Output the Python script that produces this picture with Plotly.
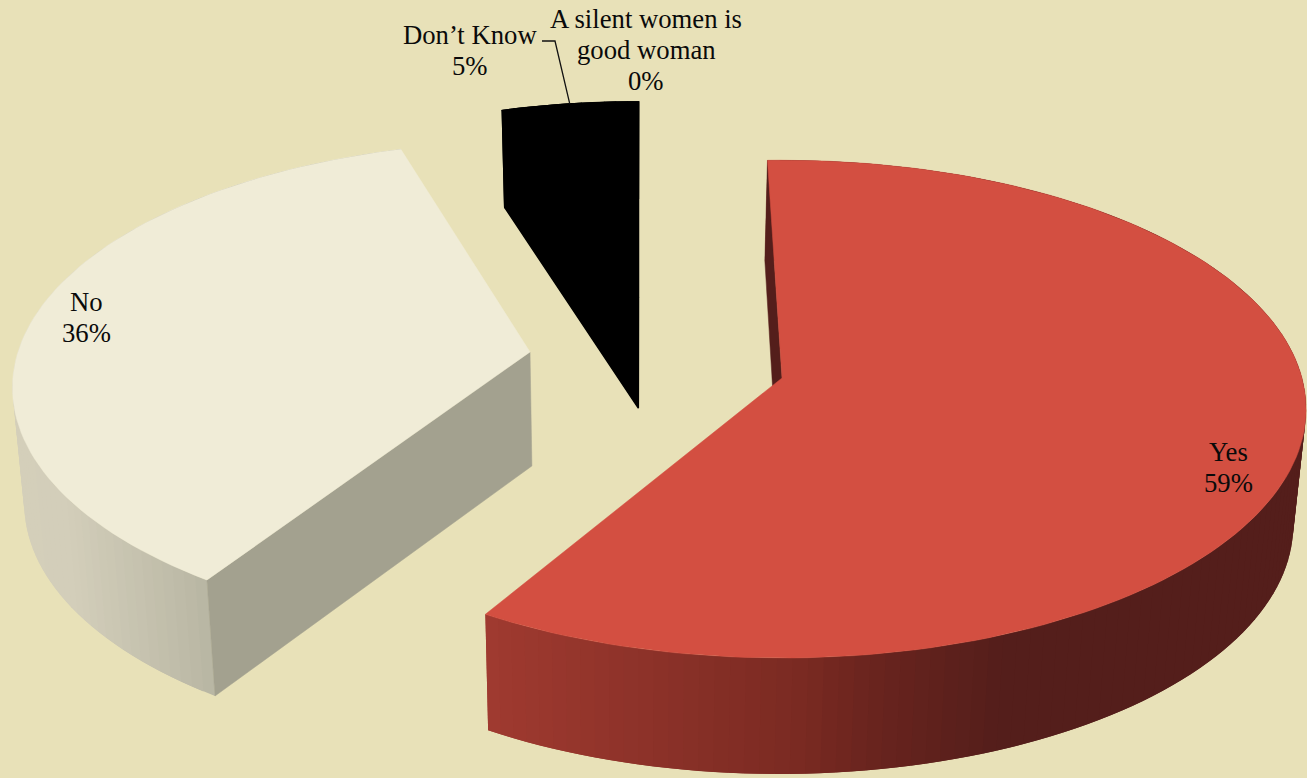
import math
import plotly.graph_objects as go

# Survey shares, in clockwise order from twelve o'clock
categories = ["Yes", "No", "Don’t Know", "A silent women is<br>good woman"]
shares = [59, 36, 5, 0]

W, H = 1307, 778
BG = "#E8E1B8"
TEXT_FONT = dict(family="Liberation Serif, Times New Roman, serif", size=26.7, color="#0a0a0a")
LINE_STEP = 31

# Exploded position and perspective of each slice
slice_style = {
    "Yes": dict(apex=(782, 378), rx=520, ry=245, k=0.125, rot=-1.8, top="#D34F41",
                cut="#541E1B", seam=0.0,
                wall=[(485, (160, 58, 48)), (800, (122, 42, 34)), (870, (106, 36, 30)),
                      (1000, (84, 30, 27)), (1307, (84, 30, 27))]),
    "No": dict(apex=(530, 352), rx=512, ry=241, k=0.145, rot=1.3, top="#F0ECD7",
               cut="#A3A18F", seam=0.0,
               wall=[(12, (212, 207, 186)), (70, (211, 206, 186)), (207, (185, 183, 164))]),
    "Don’t Know": dict(apex=(638.5, 298), rx=494, ry=221, k=0.127, rot=0.0, top="#000000",
                       cut="#000000", seam=1.5,
                       wall=[(0, (0, 0, 0)), (W, (0, 0, 0))]),
}

label_pos = {
    "Yes": (1228, 467),
    "No": (86, 317),
    "Don’t Know": (470, 50),
    "A silent women is<br>good woman": (646, 50),
}
leader_elbow = [(542, 41), (555, 41)]


def project(style, deg):
    """Map a rim angle (clockwise from the back) to page pixels."""
    a = math.radians(deg)
    u, v = math.sin(a), math.cos(a)
    w = 1 + style["k"] * v
    ax, ay = style["apex"]
    return ax + style["rx"] * u / w, ay - style["ry"] * v / w


def drop(pt):
    """Base-plane counterpart of a top-plane point; the extrusion converges slightly."""
    x, y = pt
    depth = min(116, 97 + (y - 110) * 0.07)
    return x + 0.019 * (630 - x), y + depth


def shade(stops, x):
    if x <= stops[0][0]:
        c = stops[0][1]
    elif x >= stops[-1][0]:
        c = stops[-1][1]
    else:
        for (x0, c0), (x1, c1) in zip(stops, stops[1:]):
            if x0 <= x <= x1:
                t = (x - x0) / (x1 - x0)
                c = tuple(a + (b - a) * t for a, b in zip(c0, c1))
                break
    return "rgb(%d,%d,%d)" % tuple(round(v) for v in c)


def polygon(points, color, name, edge=0.0):
    return go.Scatter(
        x=[p[0] for p in points] + [points[0][0]],
        y=[p[1] for p in points] + [points[0][1]],
        mode="lines", fill="toself", fillcolor=color,
        line=dict(color=color, width=edge),
        hoverinfo="skip", showlegend=False, name=name,
    )


fig = go.Figure()
total = sum(shares)
start = 0.0
arc_mid = {}
for name, share in zip(categories, shares):
    sweep = 360.0 * share / total
    if share > 0:
        st = slice_style[name]
        a0 = start + st["rot"]
        steps = max(8, int(sweep / 1.5))
        rim = [project(st, a0 + sweep * i / steps) for i in range(steps + 1)]
        base = [drop(p) for p in rim]
        arc_mid[name] = project(st, a0 + sweep / 2)
        apex, apex_base = st["apex"], drop(st["apex"])

        # Outer wall: strips overlap the next one so no seams show through
        for i in range(steps):
            j = min(i + 2, steps)
            quad = rim[i:j + 1] + base[i:j + 1][::-1]
            xm = (rim[i][0] + rim[i + 1][0] + base[i][0] + base[i + 1][0]) / 4
            fig.add_trace(polygon(quad, shade(st["wall"], xm), name, edge=st["seam"]))
        # The leading radial cut is the one facing the viewer
        fig.add_trace(polygon([rim[0], apex, apex_base, base[0]], st["cut"], name,
                              edge=max(0.5, st["seam"])))
        # Top face
        fig.add_trace(polygon([apex] + rim, st["top"], name, edge=max(0.5, st["seam"])))
    start += sweep

# Leader from the Don't Know label to the middle of its rim
leader = leader_elbow + [arc_mid["Don’t Know"]]
fig.add_trace(go.Scatter(
    x=[p[0] for p in leader], y=[p[1] for p in leader], mode="lines",
    line=dict(color="#111111", width=1.3), hoverinfo="skip", showlegend=False,
))

# Labels are laid out line by line to keep the tight leading
for name, share in zip(categories, shares):
    x, y = label_pos[name]
    lines = name.split("<br>") + [f"{share}%"]
    for i, line in enumerate(lines):
        fig.add_annotation(x=x, y=y + (i - (len(lines) - 1) / 2) * LINE_STEP, text=line,
                           showarrow=False, font=TEXT_FONT, align="center",
                           xanchor="center", yanchor="middle")

fig.update_layout(
    width=W, height=H, margin=dict(l=0, r=0, t=0, b=0),
    paper_bgcolor=BG, plot_bgcolor=BG, showlegend=False,
    xaxis=dict(range=[0, W], visible=False, fixedrange=True),
    yaxis=dict(range=[H, 0], visible=False, fixedrange=True),
)
fig.write_html("out.html", config=dict(displayModeBar=False))
